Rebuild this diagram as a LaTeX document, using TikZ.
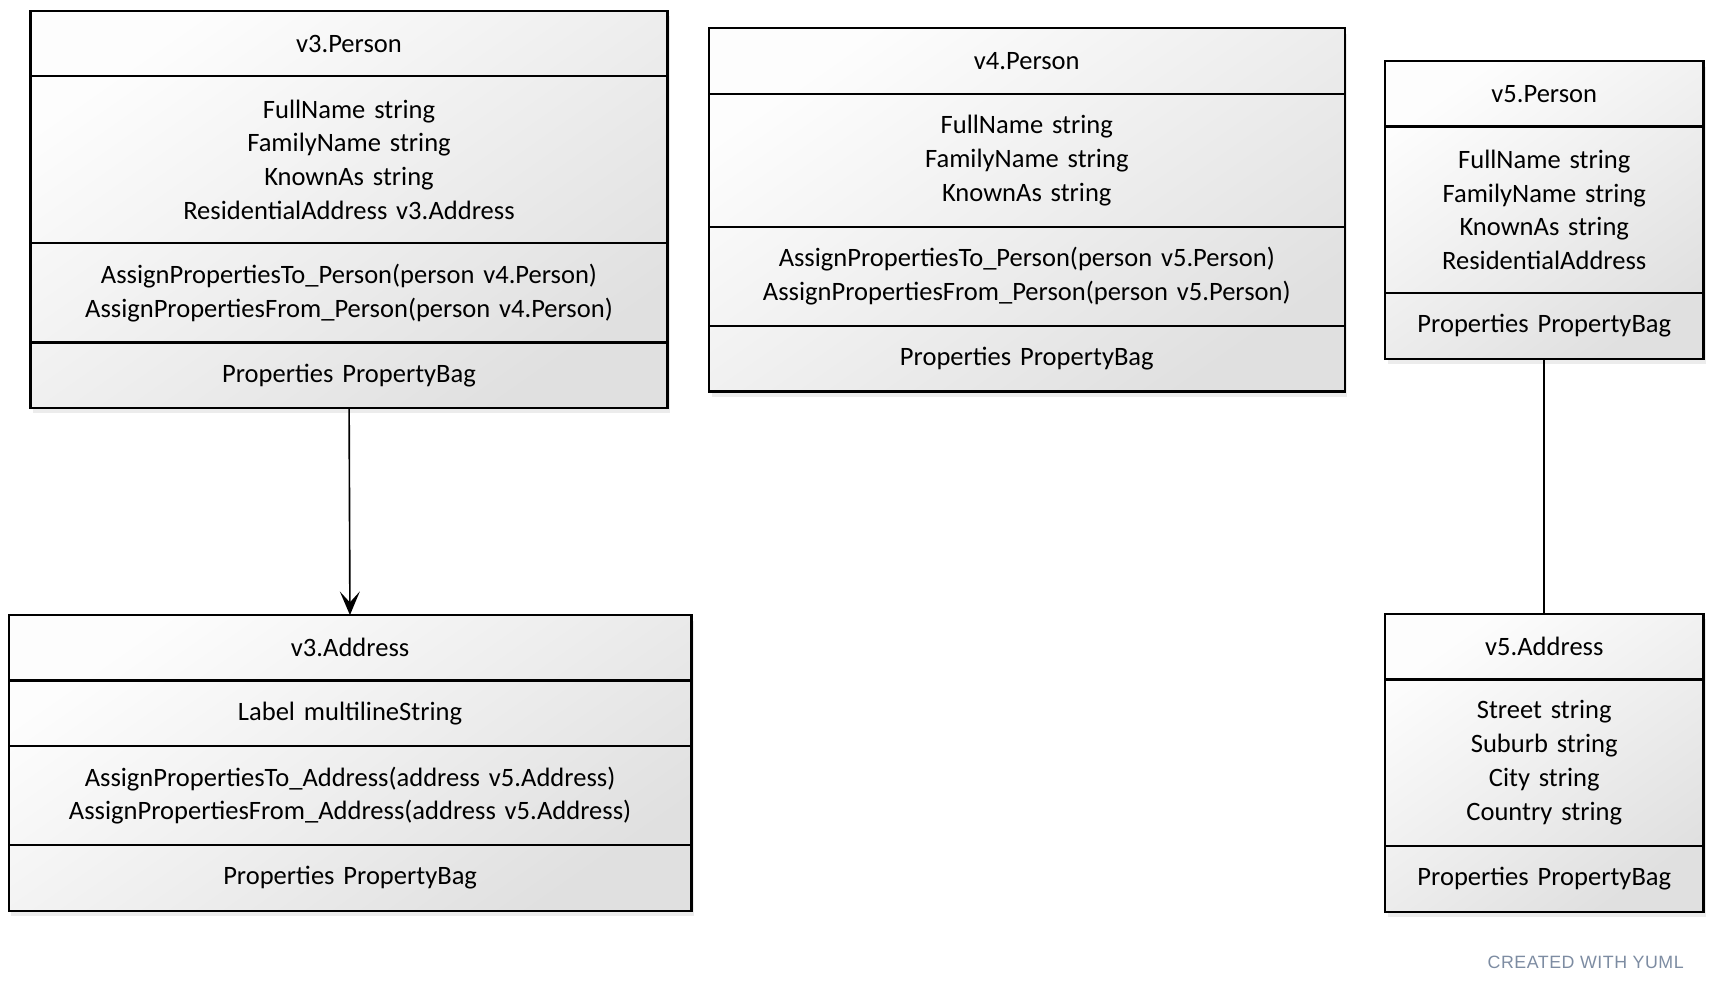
\documentclass[tikz,border=0pt]{standalone}
\usepackage{fontspec}
\setmainfont{Carlito}
\newfontfamily\yumlfont[LetterSpace=3]{Liberation Sans}
\usepackage{tikz}
\usetikzlibrary{shapes,arrows.meta,fit,positioning,backgrounds,shadows}
\definecolor{boxlight}{RGB}{253,253,253}
\definecolor{boxdark}{RGB}{224,224,224}
\definecolor{yumlgray}{RGB}{125,140,162}

\begin{document}
\begin{tikzpicture}[% one unit is one pixel of the sketch, y runs downwards
			x=0.6pt, y=-0.6pt,
			every node/.style={
				align=center,		% so that "\\" breaks the lines
				inner sep=0pt, outer sep=0pt,
				font=\fontsize{14.6}{18.6}\selectfont
			},
			part/.style={rectangle,draw,line width=1.2pt,minimum height=#1*18.6pt+17.4pt},	% #1 = number of lines
			classbg/.style={rectangle,draw=none,top color=boxlight,bottom color=boxdark,shading angle=35,
				drop shadow={shadow xshift=1.5pt,shadow yshift=-3pt,opacity=0.15}},
			every edge/.style={draw,line width=0.9pt}
		]
		\useasboundingbox (0,0) rectangle (1568,908);
		% v3.Person
		\begin{scope}[every node/.append style={text width=350.4pt}]
		\node[part=1,anchor=north west](v3P) at (28,10){v3.Person};
		\node[part=4](v3Pa)[below=0pt of v3P]{FullName string\\ FamilyName string\\ KnownAs string\\ ResidentialAddress v3.Address};
		\node[part=2](v3Pm)[below=0pt of v3Pa]{AssignPropertiesTo\_Person(person v4.Person)\\ AssignPropertiesFrom\_Person(person v4.Person)};
		\node[part=1](v3Pp)[below=0pt of v3Pm]{Properties PropertyBag};
		\end{scope}
		% v4.Person
		\begin{scope}[every node/.append style={text width=349.8pt}]
		\node[part=1,anchor=north west](v4P) at (650,26){v4.Person};
		\node[part=3](v4Pa)[below=0pt of v4P]{FullName string\\ FamilyName string\\ KnownAs string};
		\node[part=2](v4Pm)[below=0pt of v4Pa]{AssignPropertiesTo\_Person(person v5.Person)\\ AssignPropertiesFrom\_Person(person v5.Person)};
		\node[part=1](v4Pp)[below=0pt of v4Pm]{Properties PropertyBag};
		\end{scope}
		% v5.Person
		\begin{scope}[every node/.append style={text width=175.2pt}]
		\node[part=1,anchor=north west](v5P) at (1270,56){v5.Person};
		\node[part=4](v5Pa)[below=0pt of v5P]{FullName string\\ FamilyName string\\ KnownAs string\\ ResidentialAddress};
		\node[part=1](v5Pp)[below=0pt of v5Pa]{Properties PropertyBag};
		\end{scope}
		% v3.Address
		\begin{scope}[every node/.append style={text width=375.6pt}]
		\node[part=1,anchor=north west](v3A) at (8,564){v3.Address};
		\node[part=1](v3Aa)[below=0pt of v3A]{Label multilineString};
		\node[part=2](v3Am)[below=0pt of v3Aa]{AssignPropertiesTo\_Address(address v5.Address)\\ AssignPropertiesFrom\_Address(address v5.Address)};
		\node[part=1](v3Ap)[below=0pt of v3Am]{Properties PropertyBag};
		\end{scope}
		% v5.Address
		\begin{scope}[every node/.append style={text width=175.2pt}]
		\node[part=1,anchor=north west](v5A) at (1270,563){v5.Address};
		\node[part=4](v5Aa)[below=0pt of v5A]{Street string\\ Suburb string\\ City string\\ Country string};
		\node[part=1](v5Ap)[below=0pt of v5Aa]{Properties PropertyBag};
		\end{scope}
		% shaded backs of the classes
		\begin{scope}[on background layer]
		\node[classbg,fit=(v3P)(v3Pp)](v3Pbox){};
		\node[classbg,fit=(v4P)(v4Pp)](v4Pbox){};
		\node[classbg,fit=(v5P)(v5Pp)](v5Pbox){};
		\node[classbg,fit=(v3A)(v3Ap)](v3Abox){};
		\node[classbg,fit=(v5A)(v5Ap)](v5Abox){};
		\end{scope}
		\path
		(v3Pp)edge [-{Stealth[length=13pt,width=11pt,inset=6pt]}] (v3A)
		(v5Pp)edge [] (v5A)
		;
		\node[font=\yumlfont\fontsize{9.8}{12}\selectfont,text=yumlgray](yuml) at (1454,882){CREATED WITH YUML};
	\end{tikzpicture}
\end{document}
